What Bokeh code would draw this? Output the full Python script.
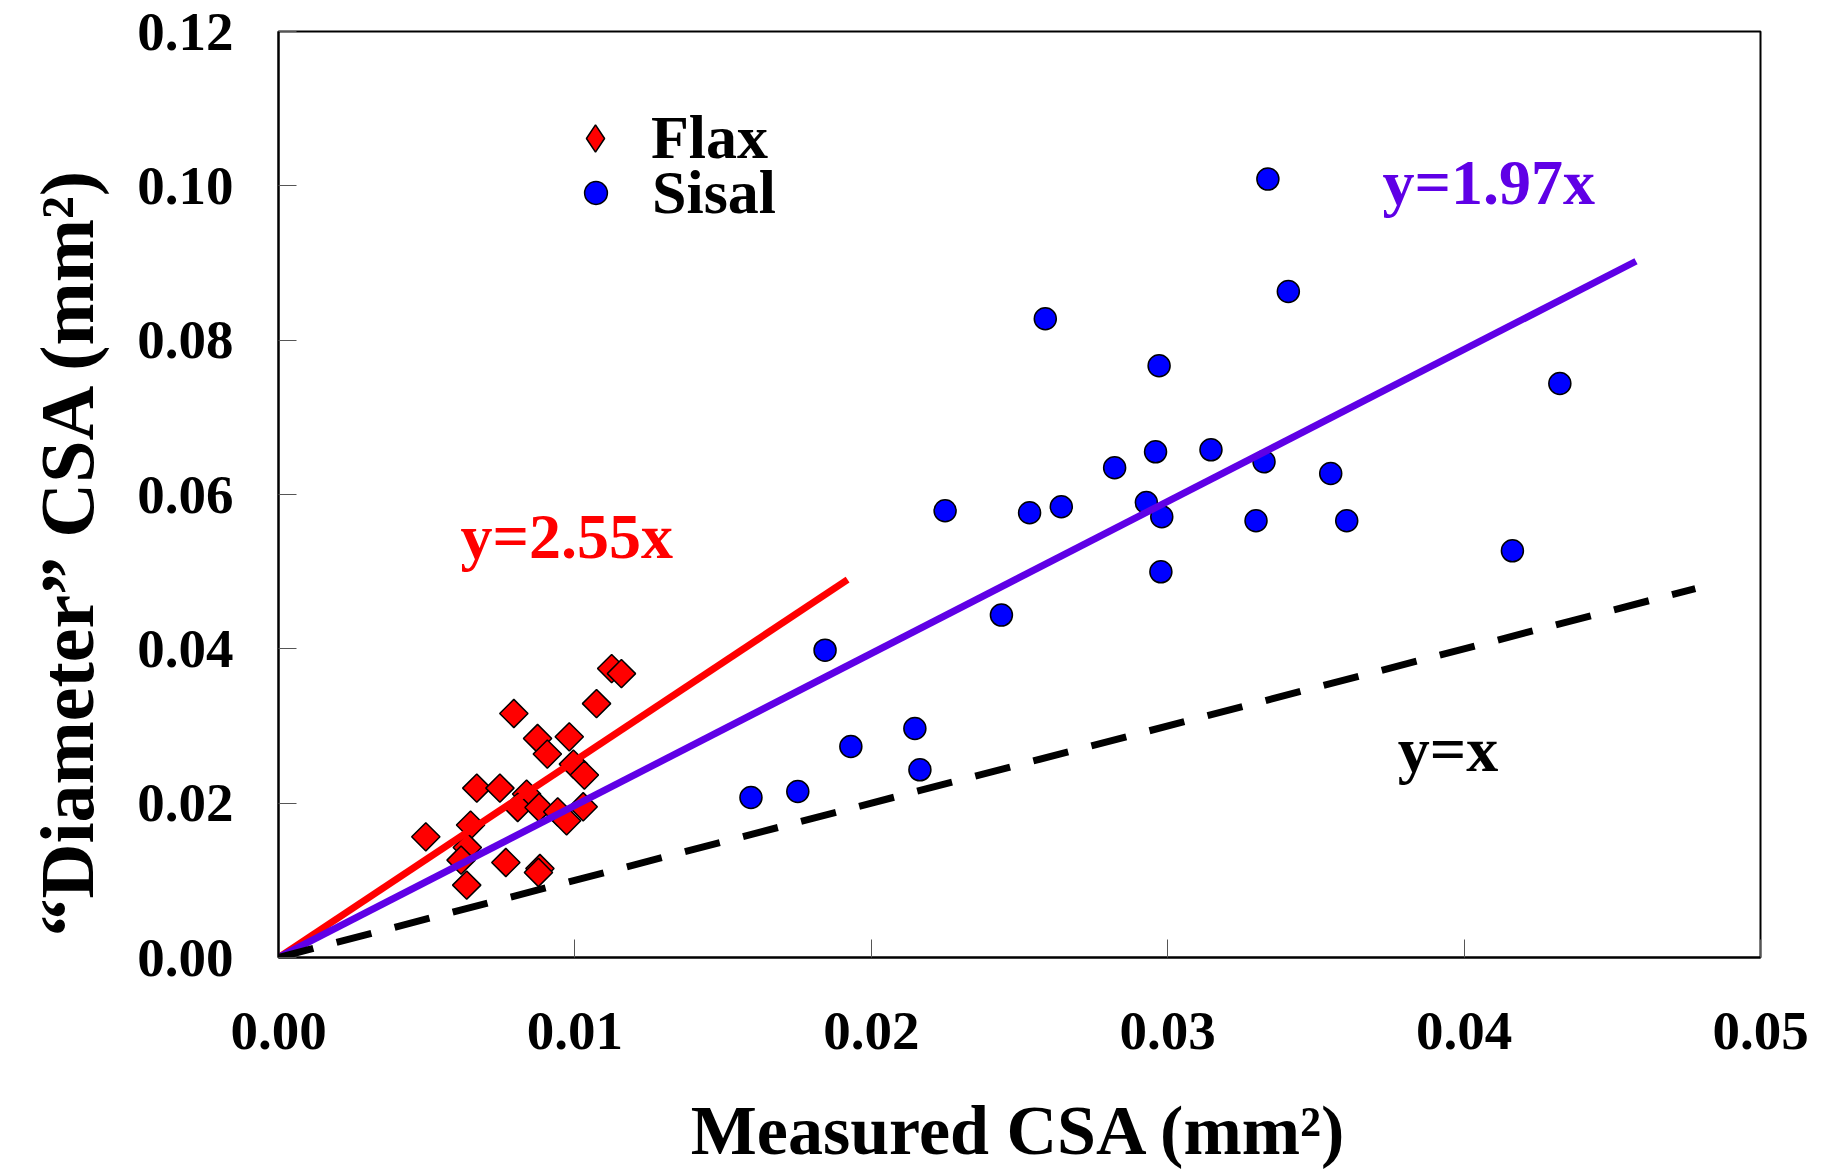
import math
from bokeh.plotting import figure
from bokeh.models import FixedTicker, PrintfTickFormatter, Label, Legend, LegendItem, Title
from bokeh.embed import file_html
from bokeh.resources import INLINE

# ---------------- data ----------------
flax_x = [0.01124, 0.01157, 0.01073, 0.00794, 0.00874, 0.00981, 0.00907, 0.00995,
          0.01032, 0.00669, 0.00747, 0.00837, 0.00807, 0.00879, 0.00942, 0.01028,
          0.00972, 0.00648, 0.00497, 0.00637, 0.00616, 0.00767, 0.00882, 0.00877,
          0.00635]
flax_y = [0.03744, 0.03679, 0.03290, 0.03162, 0.02838, 0.02860, 0.02636, 0.02506,
          0.02364, 0.02195, 0.02195, 0.02118, 0.01944, 0.01944, 0.01888, 0.01953,
          0.01771, 0.01716, 0.01564, 0.01425, 0.01262, 0.01231, 0.01153, 0.01102,
          0.00938]

sisal_x = [0.01594, 0.01752, 0.01844, 0.01931, 0.02147, 0.02164, 0.02249, 0.02439,
           0.02534, 0.02587, 0.02641, 0.02821, 0.02928, 0.02959, 0.02971, 0.02980,
           0.02977, 0.03146, 0.03298, 0.03325, 0.03338, 0.03407, 0.03550, 0.03604,
           0.04163, 0.04323]
sisal_y = [0.02073, 0.02151, 0.03983, 0.02734, 0.02968, 0.02432, 0.05789, 0.04437,
           0.05763, 0.08277, 0.05841, 0.06346, 0.05896, 0.06553, 0.07668, 0.05711,
           0.04998, 0.06579, 0.05659, 0.06424, 0.10087, 0.08631, 0.06272, 0.05659,
           0.05270, 0.07438]

x_ticks = [0.00, 0.01, 0.02, 0.03, 0.04, 0.05]
y_ticks = [0.00, 0.02, 0.04, 0.06, 0.08, 0.10, 0.12]

fit_names = ["y=2.55x", "y=1.97x", "y=x"]
fit_slopes = [2.55, 1.97, 1.0]
fit_x_end = [0.0192, 0.0458, 0.0478]
fit_colors = ["#FF0000", "#5F00E6", "#000000"]
fit_dash = ["solid", "solid", "36 24"]

x_title = "Measured CSA (mm\u00b2)"
y_title = "\u201cDiameter\u201d CSA (mm\u00b2)"

FONT = "Liberation Serif"

p = figure(width=1831, height=1172, x_range=(0, 0.05), y_range=(0, 0.12),
           output_backend="svg", toolbar_location=None,
           min_border_left=277, min_border_right=71, min_border_top=31,
           min_border_bottom=215)

p.grid.visible = False
p.outline_line_color = "black"
p.outline_line_width = 2
p.background_fill_color = "white"
p.border_fill_color = "white"

for ax in (p.xaxis[0], p.yaxis[0]):
    ax.axis_line_color = "black"
    ax.axis_line_width = 2
    ax.major_tick_in = 18
    ax.major_tick_out = 0
    ax.major_tick_line_color = "#555555"
    ax.major_tick_line_width = 1
    ax.minor_tick_line_color = None
    ax.major_label_text_font = FONT
    ax.major_label_text_font_style = "bold"
    ax.major_label_text_font_size = "55px"
    ax.major_label_text_color = "black"
    ax.formatter = PrintfTickFormatter(format="%.2f")

p.xaxis[0].ticker = FixedTicker(ticks=x_ticks)
p.yaxis[0].ticker = FixedTicker(ticks=y_ticks)
p.xaxis[0].major_label_standoff = 55
p.yaxis[0].major_label_standoff = 45

# x axis title
p.xaxis[0].axis_label = x_title
p.xaxis[0].axis_label_text_font = FONT
p.xaxis[0].axis_label_text_font_style = "bold"
p.xaxis[0].axis_label_text_font_size = "70px"
p.xaxis[0].axis_label_text_color = "black"
p.xaxis[0].axis_label_standoff = 40

# y axis title (as a side title so it can be placed along the axis)
p.add_layout(Title(text=y_title, align="left", offset=21, vertical_align="top",
                   standoff=48, text_font=FONT, text_font_style="bold",
                   text_font_size="76px", text_color="black"), "left")

# markers
flax_r = p.scatter(flax_x, flax_y, marker="square", angle=math.pi / 4, size=20,
                   fill_color="#FF0000", line_color="black", line_width=1.5)
sisal_r = p.scatter(sisal_x, sisal_y, marker="circle", size=22,
                    fill_color="#0000FF", line_color="black", line_width=1.5)
# legend key proxy (diamond shape) for flax
flax_key = p.scatter(flax_x, flax_y, marker="diamond", size=27,
                     fill_color="#FF0000", line_color="black", line_width=1.5,
                     visible=False)

# fit lines
for s, xe, c, d in zip(fit_slopes, fit_x_end, fit_colors, fit_dash):
    p.line([0.0, xe], [0.0, s * xe], line_color=c, line_width=7, line_dash=d)

# fit annotations
label_pos = [(0.00614, 0.05456), (0.03725, 0.10043), (0.03776, 0.02695)]
for name, col, (lx, ly) in zip(fit_names, fit_colors, label_pos):
    p.add_layout(Label(x=lx, y=ly, text=name, text_color=col,
                       text_font=FONT, text_font_style="bold", text_font_size="64px",
                       text_baseline="alphabetic", text_align="left"))


def make_legend(label, rend, glyph, loc, standoff):
    return Legend(items=[LegendItem(label=label, renderers=[rend])],
                  location=loc, orientation="vertical",
                  glyph_width=glyph, glyph_height=glyph, label_height=glyph,
                  label_standoff=standoff, padding=0, margin=0, spacing=0,
                  border_line_color=None, background_fill_alpha=0,
                  label_text_font=FONT, label_text_font_style="bold",
                  label_text_font_size="62px", label_text_color="black")


p.add_layout(make_legend("Flax", flax_key, 68, (283, 784), 22))
p.add_layout(make_legend("Sisal", sisal_r, 57, (289, 729), 28))

open("out.html", "w").write(file_html(p, INLINE))
